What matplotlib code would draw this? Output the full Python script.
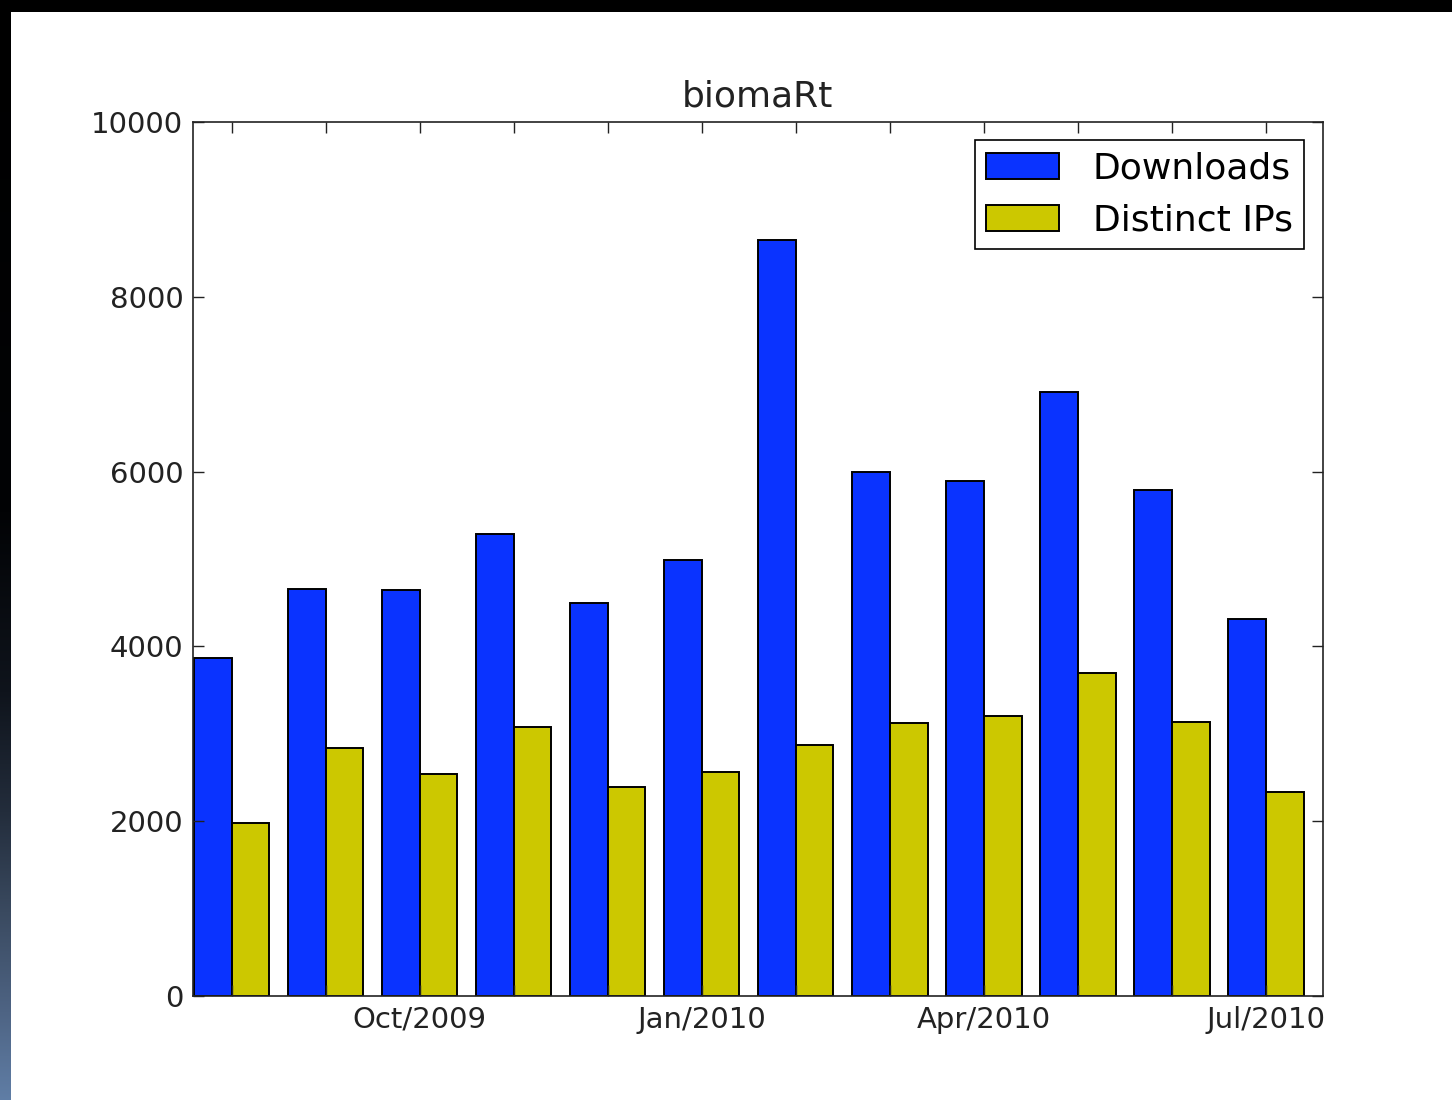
#!/usr/bin/env python3
"""
biomaRt monthly downloads / distinct IPs bar chart
"""

import numpy as np
import matplotlib
matplotlib.use('Agg')
import matplotlib.pyplot as plt
from matplotlib.patches import Rectangle

# monthly data, Aug/2009 .. Jul/2010
months = ['Aug/2009', 'Sep/2009', 'Oct/2009', 'Nov/2009', 'Dec/2009', 'Jan/2010',
          'Feb/2010', 'Mar/2010', 'Apr/2010', 'May/2010', 'Jun/2010', 'Jul/2010']
downloads = [3870, 4660, 4640, 5290, 4500, 4990, 8650, 6000, 5890, 6910, 5790, 4310]
distinct_ips = [1980, 2840, 2540, 3080, 2390, 2560, 2870, 3120, 3200, 3700, 3140, 2330]
labelled_months = ['Oct/2009', 'Jan/2010', 'Apr/2010', 'Jul/2010']

plt.rcParams['font.family'] = ['DejaVu Sans']

fig = plt.figure(figsize=(14.52, 11), dpi=100)
fig.patch.set_facecolor('white')

# slide border: black band on top, dark gradient strip on the left
fig.patches.append(Rectangle((0, 1 - 12 / 1100), 1, 12 / 1100, transform=fig.transFigure,
                             facecolor='black', edgecolor='none', zorder=0))
strip = fig.add_axes([0, 0, 11 / 1452, 1 - 12 / 1100])
stops_y = [0, 500, 680, 800, 900, 1000, 1088]
stops_r = [0, 2, 15, 35, 58, 78, 96]
stops_g = [0, 3, 20, 45, 74, 100, 126]
stops_b = [0, 5, 28, 60, 96, 132, 166]
yy = np.arange(1088)
grad = np.stack([np.interp(yy, stops_y, stops_r),
                 np.interp(yy, stops_y, stops_g),
                 np.interp(yy, stops_y, stops_b)], axis=1) / 255.0
strip.imshow(grad[:, None, :], aspect='auto', interpolation='bilinear')
strip.set_axis_off()

ax = fig.add_axes([193 / 1452, 104 / 1100, (1322.5 - 193) / 1452, (996 - 122) / 1100])

x = np.arange(len(months))
width = 0.4
ax.bar(x - width, downloads, width, align='edge', color='#0a33ff',
       edgecolor='black', linewidth=1.4, label='Downloads')
ax.bar(x, distinct_ips, width, align='edge', color='#ccc800',
       edgecolor='black', linewidth=1.4, label='Distinct IPs')

ax.set_xlim(-0.41, 11.6)
ax.set_ylim(0, 10000)
ax.set_yticks([0, 2000, 4000, 6000, 8000, 10000])
ax.set_xticks(x)
ax.set_xticklabels([m if m in labelled_months else '' for m in months])

ax.tick_params(direction='in', length=8, width=1, top=True, right=True,
               labelsize=21, pad=7, colors='#222222', labelcolor='#222222')
for s in ax.spines.values():
    s.set_linewidth(1.2)
    s.set_color('#222222')

ax.set_title('biomaRt', fontsize=26, pad=11, color='#222222')

leg = ax.legend(loc='upper right', fontsize=26, fancybox=False, framealpha=1,
                edgecolor='black', borderaxespad=0.5, handlelength=2.0,
                handleheight=0.7, handletextpad=0.95, borderpad=0.32, labelspacing=0.5)
leg.get_frame().set_linewidth(1.2)

plt.savefig('out.png', dpi=100)
